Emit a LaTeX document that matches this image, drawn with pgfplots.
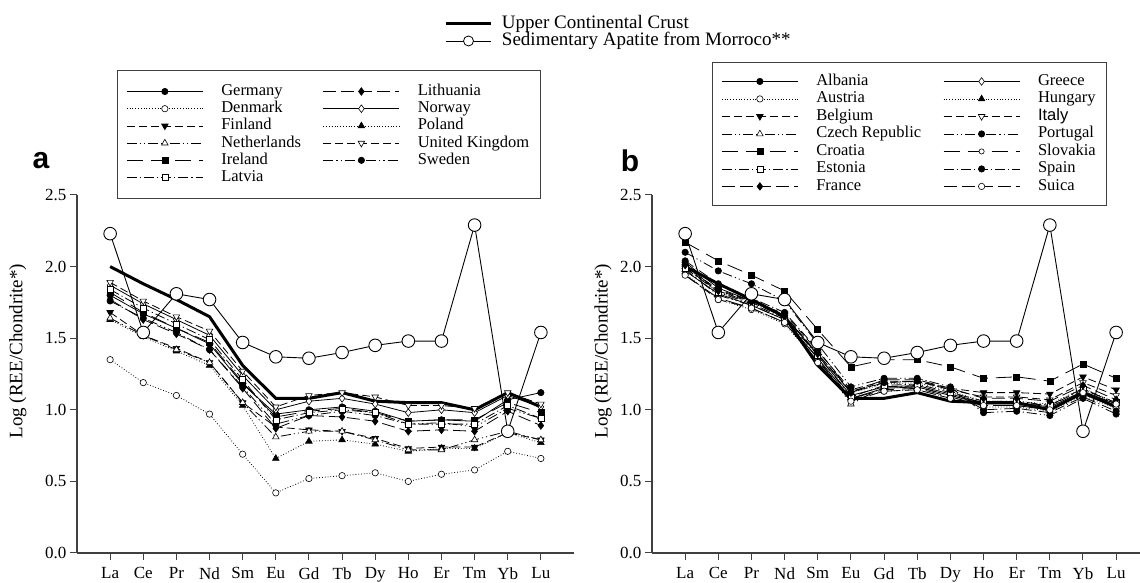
\documentclass[border=0pt]{standalone}
\usepackage{fontspec}
\setmainfont{Liberation Serif}
\newfontfamily\arial{Liberation Sans}
\usepackage{pgfplots}
\usepackage{pgfplotstable}
\pgfplotsset{compat=1.18}

% REE patterns, Log(REE/Chondrite*)
\pgfplotstableread{
x  UCC  Apat Germany Denmark Finland Netherlands Ireland Latvia Lithuania Norway Poland UK   Sweden
1  2.00 2.23 1.80    1.35    1.68    1.64        1.82    1.84   1.77      1.87   1.63   1.89 1.76
2  1.88 1.54 1.67    1.19    1.52    1.52        1.68    1.71   1.63      1.74   1.51   1.76 1.64
3  1.77 1.81 1.57    1.10    1.43    1.42        1.57    1.60   1.53      1.63   1.41   1.65 1.54
4  1.65 1.77 1.46    0.97    1.33    1.33        1.47    1.49   1.42      1.52   1.31   1.55 1.42
5  1.31 1.47 1.18    0.69    1.05    1.05        1.19    1.21   1.15      1.24   1.03   1.27 1.16
6  1.08 1.37 0.97    0.42    0.88    0.81        0.95    0.93   0.87      1.00   0.66   1.02 0.90
7  1.08 1.36 1.00    0.52    0.86    0.85        0.99    0.98   0.96      1.06   0.78   1.10 0.96
8  1.12 1.40 1.02    0.54    0.85    0.85        1.01    1.00   0.95      1.08   0.79   1.12 0.99
9  1.06 1.45 0.99    0.56    0.80    0.79        0.98    0.98   0.92      1.04   0.76   1.09 0.96
10 1.05 1.48 0.92    0.50    0.73    0.72        0.92    0.90   0.85      0.98   0.71   1.03 0.90
11 1.05 1.48 0.93    0.55    0.74    0.72        0.93    0.90   0.86      1.00   0.73   1.03 0.91
12 1.00 2.29 0.92    0.58    0.74    0.79        0.93    0.90   0.85      0.98   0.73   1.01 0.88
13 1.12 0.85 1.07    0.71    0.84    0.85        1.05    1.03   0.99      1.10   0.84   1.12 1.01
14 1.02 1.54 1.12    0.66    0.79    0.79        0.98    0.94   0.89      1.02   0.77   1.04 0.94
}\tabA

\pgfplotstableread{
x  UCC  Apat Albania Austria Belgium Czech Croatia Estonia France Greece Hungary Italy Portugal Slovakia Spain Suica
1  2.00 2.23 2.03    1.95    2.00    1.98  2.17    1.99    2.01   1.97   2.00    1.99  2.10     1.94     2.04  1.94
2  1.88 1.54 1.85    1.77    1.84    1.80  2.04    1.82    1.83   1.81   1.82    1.83  1.97     1.78     1.88  1.77
3  1.77 1.81 1.76    1.70    1.76    1.73  1.94    1.74    1.75   1.73   1.75    1.76  1.88     1.71     1.78  1.71
4  1.65 1.77 1.66    1.60    1.67    1.63  1.83    1.64    1.65   1.63   1.65    1.66  1.76     1.61     1.68  1.61
5  1.31 1.47 1.38    1.33    1.41    1.36  1.56    1.38    1.39   1.36   1.39    1.39  1.46     1.34     1.42  1.33
6  1.08 1.37 1.10    1.07    1.14    1.04  1.30    1.09    1.12   1.08   1.12    1.13  1.16     1.08     1.12  1.06
7  1.08 1.36 1.16    1.13    1.20    1.16  1.35    1.17    1.21   1.15   1.18    1.19  1.22     1.14     1.19  1.13
8  1.12 1.40 1.17    1.14    1.20    1.16  1.35    1.18    1.21   1.16   1.19    1.20  1.22     1.15     1.20  1.14
9  1.06 1.45 1.11    1.08    1.15    1.10  1.30    1.12    1.15   1.10   1.13    1.14  1.16     1.09     1.14  1.08
10 1.05 1.48 1.05    1.02    1.12    1.05  1.22    1.06    1.08   1.04   1.06    1.09  0.98     1.03     1.00  1.03
11 1.05 1.48 1.05    1.02    1.12    1.05  1.23    1.06    1.08   1.04   1.06    1.09  0.99     1.03     1.01  1.03
12 1.00 2.29 1.02    0.99    1.11    1.03  1.20    1.03    1.06   1.01   1.04    1.07  0.96     1.00     0.98  1.00
13 1.12 0.85 1.13    1.10    1.23    1.15  1.32    1.14    1.17   1.12   1.15    1.19  1.08     1.11     1.09  1.12
14 1.02 1.54 1.04    1.01    1.14    1.04  1.22    1.05    1.07   1.03   1.05    1.10  0.97     1.02     0.99  1.04
}\tabB

\pgfplotsset{
  cty/.style={black, line width=0.8pt, mark size=3.2pt},
  ls solid/.style={solid},
  ls dot/.style={dash pattern=on 0.8pt off 2pt},
  ls dash/.style={dash pattern=on 8pt off 4pt},
  ls long/.style={dash pattern=on 16pt off 8pt},
  ls longb/.style={dash pattern=on 13pt off 5pt},
  ls dd/.style={dash pattern=on 10pt off 3pt on 1.2pt off 3pt},
  ls ddd/.style={dash pattern=on 10pt off 3pt on 1.2pt off 3pt on 1.2pt off 3pt},
  m fc/.style={mark=*, mark options={solid, fill=black, line width=0.6pt}},
  m oc/.style={mark=*, mark options={solid, fill=white, line width=0.6pt}},
  m soc/.style={mark=*, mark size=2.6pt, mark options={solid, fill=white, line width=0.6pt}},
  m ft/.style={mark=triangle*, mark size=3.8pt, mark options={solid, fill=black, line width=0.6pt}},
  m ot/.style={mark=triangle*, mark size=3.8pt, mark options={solid, fill=white, line width=0.6pt}},
  m fdt/.style={mark=triangle*, mark size=3.8pt, mark options={solid, fill=black, rotate=180, line width=0.6pt}},
  m odt/.style={mark=triangle*, mark size=3.8pt, mark options={solid, fill=white, rotate=180, line width=0.6pt}},
  m fs/.style={mark=square*, mark size=3pt, mark options={solid, fill=black, line width=0.6pt}},
  m os/.style={mark=square*, mark size=3pt, mark options={solid, fill=white, line width=0.6pt}},
  m fd/.style={mark=diamond*, mark size=3.8pt, mark options={solid, fill=black, line width=0.6pt}},
  m od/.style={mark=diamond*, mark size=3.8pt, mark options={solid, fill=white, line width=0.6pt}},
  ucc/.style={black, line width=3pt, no marks},
  apat/.style={black, line width=0.9pt, mark=*, mark size=6.3pt, mark options={solid, fill=white, line width=0.9pt}},
  ree/.style={
    scale only axis, anchor=south west, height=358pt,
    xmin=0, ymin=0, ymax=2.5, clip=false,
    axis x line*=bottom, axis y line*=left,
    axis line style={black!75, line width=1.2pt},
    tick style={black!75, line width=1pt},
    tick align=outside, major tick length=7pt,
    xtick={1,...,14},
    xticklabels={La,Ce,Pr,Nd,Sm,Eu,Gd,Tb,Dy,Ho,Er,Tm,Yb,Lu},
    xticklabel style={yshift=-4pt},
    ytick={0,0.5,1,1.5,2,2.5},
    yticklabel style={/pgf/number format/.cd, fixed, fixed zerofill, precision=1, assume math mode=true},
    tick label style={font=\fontsize{17}{17}\selectfont},
    ylabel={Log (REE/Chondrite*)},
    label style={font=\fontsize{19}{19}\selectfont},
    legend cell align=left,
    legend columns=2,
    legend image code/.code={\draw[mark repeat=2, mark phase=2, ##1] plot coordinates {(0pt,0pt) (38pt,0pt) (76pt,0pt)};},
    legend style={draw=black!75, line width=0.9pt, fill=white, anchor=north west,
      font=\fontsize{16.5}{16.5}\selectfont, inner xsep=9pt, inner ysep=13pt,
      nodes={inner xsep=2pt, inner ysep=0pt, text height=12pt, text depth=4pt},
      row sep=1.2pt, column sep=16pt,
      /tikz/every even column/.append style={column sep=20pt}},
  },
}

\begin{document}
\begin{tikzpicture}
\useasboundingbox (0,0) rectangle (1140pt,583pt);

% panel a
\begin{axis}[ree, at={(77pt,30pt)}, width=497pt, xmax=15,
  ylabel style={at={(axis description cs:-0.119,0.564)}, anchor=center},
  legend style={at={(axis description cs:0.0805,1.349)}}]
\addplot[cty, ls solid, m fc]  table[x=x, y=Germany]{\tabA};     \addlegendentry{Germany}
\addplot[cty, ls longb, m fd]  table[x=x, y=Lithuania]{\tabA};   \addlegendentry{Lithuania}
\addplot[cty, ls dot, m oc]    table[x=x, y=Denmark]{\tabA};     \addlegendentry{Denmark}
\addplot[cty, ls solid, m od]  table[x=x, y=Norway]{\tabA};      \addlegendentry{Norway}
\addplot[cty, ls dash, m fdt]  table[x=x, y=Finland]{\tabA};     \addlegendentry{Finland}
\addplot[cty, ls dot, m ft]    table[x=x, y=Poland]{\tabA};      \addlegendentry{Poland}
\addplot[cty, ls ddd, m ot]    table[x=x, y=Netherlands]{\tabA}; \addlegendentry{Netherlands}
\addplot[cty, ls dash, m odt]  table[x=x, y=UK]{\tabA};          \addlegendentry{United Kingdom}
\addplot[cty, ls long, m fs]   table[x=x, y=Ireland]{\tabA};     \addlegendentry{Ireland}
\addplot[cty, ls ddd, m fc]    table[x=x, y=Sweden]{\tabA};      \addlegendentry{Sweden}
\addplot[cty, ls dd, m os]     table[x=x, y=Latvia]{\tabA};      \addlegendentry{Latvia}
\addplot[ucc, forget plot]  table[x=x, y=UCC]{\tabA};
\addplot[apat, forget plot] table[x=x, y=Apat]{\tabA};
\node[font=\arial\bfseries\fontsize{30}{30}\selectfont] at (axis description cs:-0.0724,1.095) {a};
\end{axis}

% panel b
\begin{axis}[ree, at={(652pt,30pt)}, width=488pt, xmax=14.72,
  ylabel style={at={(axis description cs:-0.1,0.564)}, anchor=center},
  legend style={at={(axis description cs:0.123,1.3715)}, inner ysep=11pt, row sep=1.5pt}]
\addplot[cty, ls solid, m fc]  table[x=x, y=Albania]{\tabB};  \addlegendentry{Albania}
\addplot[cty, ls solid, m od]  table[x=x, y=Greece]{\tabB};   \addlegendentry{Greece}
\addplot[cty, ls dot, m oc]    table[x=x, y=Austria]{\tabB};  \addlegendentry{Austria}
\addplot[cty, ls dot, m ft]    table[x=x, y=Hungary]{\tabB};  \addlegendentry{Hungary}
\addplot[cty, ls dash, m fdt]  table[x=x, y=Belgium]{\tabB};  \addlegendentry{Belgium}
\addplot[cty, ls dash, m odt]  table[x=x, y=Italy]{\tabB};    \addlegendentry{{\arial Italy}}
\addplot[cty, ls ddd, m ot]    table[x=x, y=Czech]{\tabB};    \addlegendentry{Czech Republic}
\addplot[cty, ls ddd, m fc]    table[x=x, y=Portugal]{\tabB}; \addlegendentry{Portugal}
\addplot[cty, ls long, m fs]   table[x=x, y=Croatia]{\tabB};  \addlegendentry{Croatia}
\addplot[cty, ls long, m soc]  table[x=x, y=Slovakia]{\tabB}; \addlegendentry{Slovakia}
\addplot[cty, ls dd, m os]     table[x=x, y=Estonia]{\tabB};  \addlegendentry{Estonia}
\addplot[cty, ls dd, m fc]     table[x=x, y=Spain]{\tabB};    \addlegendentry{Spain}
\addplot[cty, ls longb, m fd]  table[x=x, y=France]{\tabB};   \addlegendentry{France}
\addplot[cty, ls longb, m oc]  table[x=x, y=Suica]{\tabB};    \addlegendentry{Suica}
\addplot[ucc, forget plot]  table[x=x, y=UCC]{\tabB};
\addplot[apat, forget plot] table[x=x, y=Apat]{\tabB};
\node[font=\arial\bfseries\fontsize{30}{30}\selectfont] at (axis description cs:-0.045,1.095) {b};
\end{axis}

% shared legend on top
\begin{axis}[scale only axis, anchor=south west, at={(77pt,30pt)}, width=497pt, height=358pt,
  hide axis, xmin=0, xmax=1, ymin=0, ymax=1,
  legend cell align=left,
  legend image code/.code={\draw[mark repeat=2, mark phase=2, #1] plot coordinates {(0pt,0pt) (22pt,0pt) (45pt,0pt)};},
  legend style={draw=none, fill=none, anchor=north west, at={(axis description cs:0.740,1.502)},
    font=\fontsize{19}{19}\selectfont, inner sep=0pt,
    nodes={inner xsep=3pt, inner ysep=0pt, text height=13pt, text depth=4pt},
    row sep=0pt, column sep=6pt}]
\addlegendimage{black, line width=3pt}
\addlegendentry{Upper Continental Crust}
\addlegendimage{black, line width=0.8pt, mark=*, mark size=5pt, mark options={solid, fill=white}}
\addlegendentry{Sedimentary Apatite from Morroco**}
\end{axis}
\end{tikzpicture}
\end{document}
